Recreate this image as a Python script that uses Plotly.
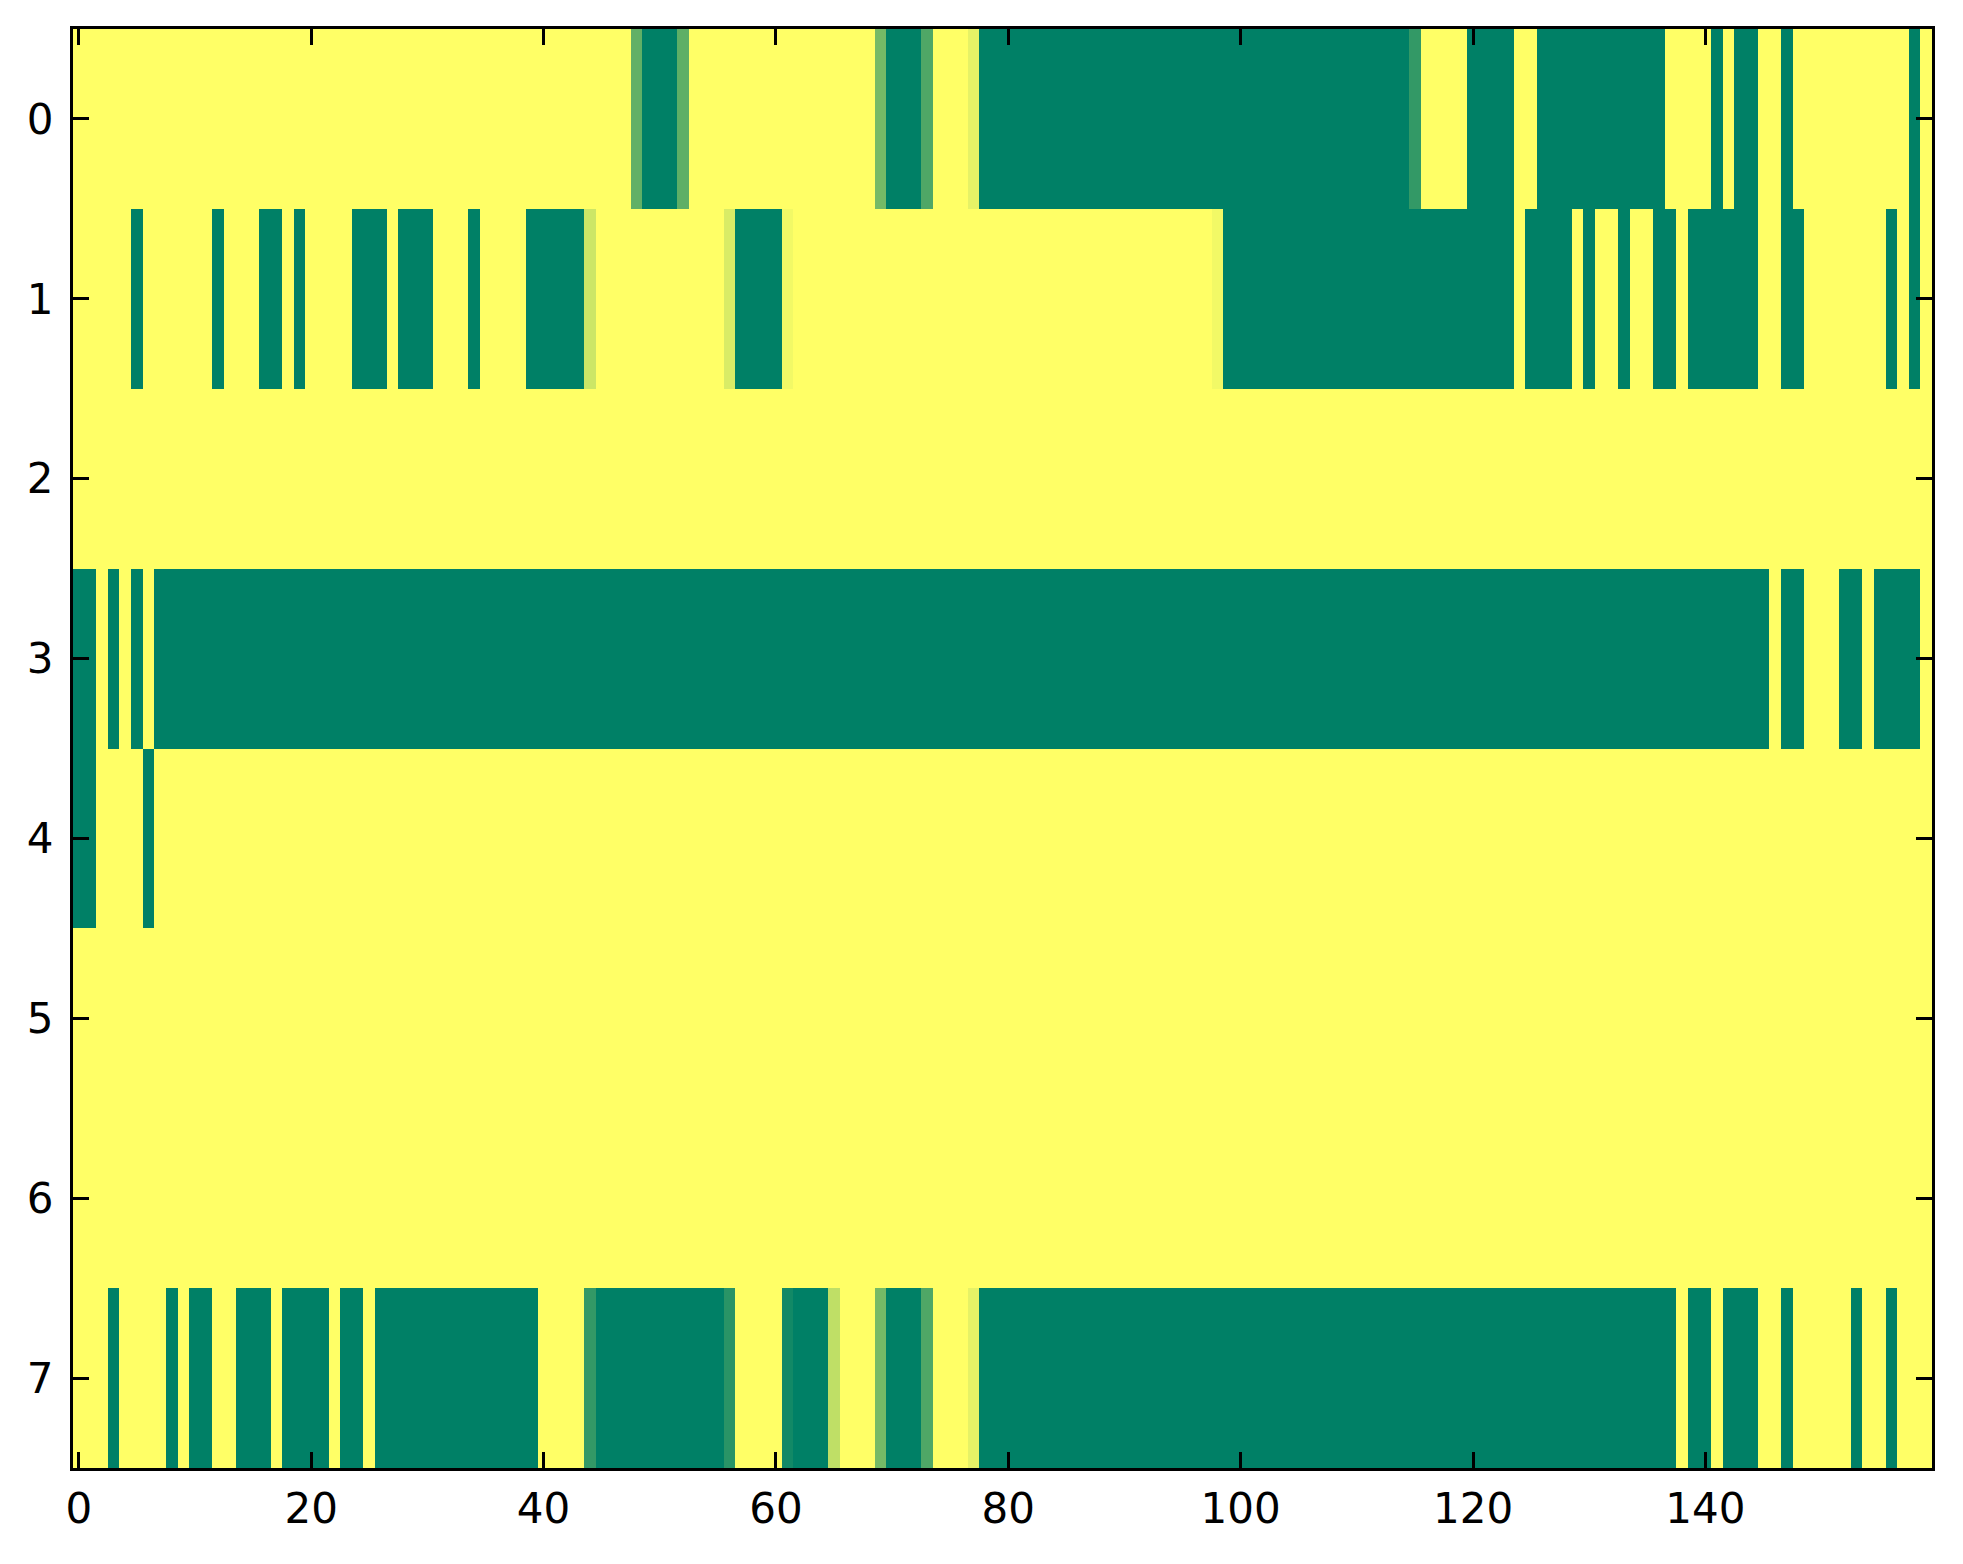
import plotly.graph_objects as go

# Heatmap values (8 rows x 160 columns), 0 = green, 1 = yellow
row0 = [
    1, 1, 1, 1, 1, 1, 1, 1, 1, 1, 1, 1, 1, 1, 1, 1, 1, 1, 1, 1,
    1, 1, 1, 1, 1, 1, 1, 1, 1, 1, 1, 1, 1, 1, 1, 1, 1, 1, 1, 1,
    1, 1, 1, 1, 1, 1, 1, 1, 0.38, 0, 0, 0, 0.37, 1, 1, 1, 1, 1, 1, 1,
    1, 1, 1, 1, 1, 1, 1, 1, 1, 0.46, 0, 0, 0, 0.31, 1, 1, 1, 0.9, 0, 0,
    0, 0, 0, 0, 0, 0, 0, 0, 0, 0, 0, 0, 0, 0, 0, 0, 0, 0, 0, 0,
    0, 0, 0, 0, 0, 0, 0, 0, 0, 0, 0, 0, 0, 0, 0, 0.2, 1, 1, 1, 1,
    0, 0, 0, 0, 1, 1, 0, 0, 0, 0, 0, 0, 0, 0, 0, 0, 0, 1, 1, 1,
    1, 0, 1, 0, 0, 1, 1, 0, 1, 1, 1, 1, 1, 1, 1, 1, 1, 1, 0, 1,
]
row1 = [
    1, 1, 1, 1, 1, 0, 1, 1, 1, 1, 1, 1, 0, 1, 1, 1, 0, 0, 1, 0,
    1, 1, 1, 1, 0, 0, 0, 1, 0, 0, 0, 1, 1, 1, 0, 1, 1, 1, 1, 0,
    0, 0, 0, 0, 0.8, 1, 1, 1, 1, 1, 1, 1, 1, 1, 1, 1, 0.85, 0, 0, 0,
    0, 0.95, 1, 1, 1, 1, 1, 1, 1, 1, 1, 1, 1, 1, 1, 1, 1, 1, 1, 1,
    1, 1, 1, 1, 1, 1, 1, 1, 1, 1, 1, 1, 1, 1, 1, 1, 1, 1, 0.95, 0,
    0, 0, 0, 0, 0, 0, 0, 0, 0, 0, 0, 0, 0, 0, 0, 0, 0, 0, 0, 0,
    0, 0, 0, 0, 1, 0, 0, 0, 0, 1, 0, 1, 1, 0, 1, 1, 0, 0, 1, 0,
    0, 0, 0, 0, 0, 1, 1, 0, 0, 1, 1, 1, 1, 1, 1, 1, 0, 1, 0, 1,
]
row2 = [
    1, 1, 1, 1, 1, 1, 1, 1, 1, 1, 1, 1, 1, 1, 1, 1, 1, 1, 1, 1,
    1, 1, 1, 1, 1, 1, 1, 1, 1, 1, 1, 1, 1, 1, 1, 1, 1, 1, 1, 1,
    1, 1, 1, 1, 1, 1, 1, 1, 1, 1, 1, 1, 1, 1, 1, 1, 1, 1, 1, 1,
    1, 1, 1, 1, 1, 1, 1, 1, 1, 1, 1, 1, 1, 1, 1, 1, 1, 1, 1, 1,
    1, 1, 1, 1, 1, 1, 1, 1, 1, 1, 1, 1, 1, 1, 1, 1, 1, 1, 1, 1,
    1, 1, 1, 1, 1, 1, 1, 1, 1, 1, 1, 1, 1, 1, 1, 1, 1, 1, 1, 1,
    1, 1, 1, 1, 1, 1, 1, 1, 1, 1, 1, 1, 1, 1, 1, 1, 1, 1, 1, 1,
    1, 1, 1, 1, 1, 1, 1, 1, 1, 1, 1, 1, 1, 1, 1, 1, 1, 1, 1, 1,
]
row3 = [
    0, 0, 1, 0, 1, 0, 1, 0, 0, 0, 0, 0, 0, 0, 0, 0, 0, 0, 0, 0,
    0, 0, 0, 0, 0, 0, 0, 0, 0, 0, 0, 0, 0, 0, 0, 0, 0, 0, 0, 0,
    0, 0, 0, 0, 0, 0, 0, 0, 0, 0, 0, 0, 0, 0, 0, 0, 0, 0, 0, 0,
    0, 0, 0, 0, 0, 0, 0, 0, 0, 0, 0, 0, 0, 0, 0, 0, 0, 0, 0, 0,
    0, 0, 0, 0, 0, 0, 0, 0, 0, 0, 0, 0, 0, 0, 0, 0, 0, 0, 0, 0,
    0, 0, 0, 0, 0, 0, 0, 0, 0, 0, 0, 0, 0, 0, 0, 0, 0, 0, 0, 0,
    0, 0, 0, 0, 0, 0, 0, 0, 0, 0, 0, 0, 0, 0, 0, 0, 0, 0, 0, 0,
    0, 0, 0, 0, 0, 0, 1, 0, 0, 1, 1, 1, 0, 0, 1, 0, 0, 0, 0, 1,
]
row4 = [
    0, 0, 1, 1, 1, 1, 0, 1, 1, 1, 1, 1, 1, 1, 1, 1, 1, 1, 1, 1,
    1, 1, 1, 1, 1, 1, 1, 1, 1, 1, 1, 1, 1, 1, 1, 1, 1, 1, 1, 1,
    1, 1, 1, 1, 1, 1, 1, 1, 1, 1, 1, 1, 1, 1, 1, 1, 1, 1, 1, 1,
    1, 1, 1, 1, 1, 1, 1, 1, 1, 1, 1, 1, 1, 1, 1, 1, 1, 1, 1, 1,
    1, 1, 1, 1, 1, 1, 1, 1, 1, 1, 1, 1, 1, 1, 1, 1, 1, 1, 1, 1,
    1, 1, 1, 1, 1, 1, 1, 1, 1, 1, 1, 1, 1, 1, 1, 1, 1, 1, 1, 1,
    1, 1, 1, 1, 1, 1, 1, 1, 1, 1, 1, 1, 1, 1, 1, 1, 1, 1, 1, 1,
    1, 1, 1, 1, 1, 1, 1, 1, 1, 1, 1, 1, 1, 1, 1, 1, 1, 1, 1, 1,
]
row5 = [
    1, 1, 1, 1, 1, 1, 1, 1, 1, 1, 1, 1, 1, 1, 1, 1, 1, 1, 1, 1,
    1, 1, 1, 1, 1, 1, 1, 1, 1, 1, 1, 1, 1, 1, 1, 1, 1, 1, 1, 1,
    1, 1, 1, 1, 1, 1, 1, 1, 1, 1, 1, 1, 1, 1, 1, 1, 1, 1, 1, 1,
    1, 1, 1, 1, 1, 1, 1, 1, 1, 1, 1, 1, 1, 1, 1, 1, 1, 1, 1, 1,
    1, 1, 1, 1, 1, 1, 1, 1, 1, 1, 1, 1, 1, 1, 1, 1, 1, 1, 1, 1,
    1, 1, 1, 1, 1, 1, 1, 1, 1, 1, 1, 1, 1, 1, 1, 1, 1, 1, 1, 1,
    1, 1, 1, 1, 1, 1, 1, 1, 1, 1, 1, 1, 1, 1, 1, 1, 1, 1, 1, 1,
    1, 1, 1, 1, 1, 1, 1, 1, 1, 1, 1, 1, 1, 1, 1, 1, 1, 1, 1, 1,
]
row6 = [
    1, 1, 1, 1, 1, 1, 1, 1, 1, 1, 1, 1, 1, 1, 1, 1, 1, 1, 1, 1,
    1, 1, 1, 1, 1, 1, 1, 1, 1, 1, 1, 1, 1, 1, 1, 1, 1, 1, 1, 1,
    1, 1, 1, 1, 1, 1, 1, 1, 1, 1, 1, 1, 1, 1, 1, 1, 1, 1, 1, 1,
    1, 1, 1, 1, 1, 1, 1, 1, 1, 1, 1, 1, 1, 1, 1, 1, 1, 1, 1, 1,
    1, 1, 1, 1, 1, 1, 1, 1, 1, 1, 1, 1, 1, 1, 1, 1, 1, 1, 1, 1,
    1, 1, 1, 1, 1, 1, 1, 1, 1, 1, 1, 1, 1, 1, 1, 1, 1, 1, 1, 1,
    1, 1, 1, 1, 1, 1, 1, 1, 1, 1, 1, 1, 1, 1, 1, 1, 1, 1, 1, 1,
    1, 1, 1, 1, 1, 1, 1, 1, 1, 1, 1, 1, 1, 1, 1, 1, 1, 1, 1, 1,
]
row7 = [
    1, 1, 1, 0, 1, 1, 1, 1, 0, 1, 0, 0, 1, 1, 0, 0, 0, 1, 0, 0,
    0, 0, 1, 0, 0, 1, 0, 0, 0, 0, 0, 0, 0, 0, 0, 0, 0, 0, 0, 0,
    1, 1, 1, 1, 0.2, 0, 0, 0, 0, 0, 0, 0, 0, 0, 0, 0, 0.16, 1, 1, 1,
    1, 0.07, 0, 0, 0, 0.75, 1, 1, 1, 0.46, 0, 0, 0, 0.31, 1, 1, 1, 0.9, 0, 0,
    0, 0, 0, 0, 0, 0, 0, 0, 0, 0, 0, 0, 0, 0, 0, 0, 0, 0, 0, 0,
    0, 0, 0, 0, 0, 0, 0, 0, 0, 0, 0, 0, 0, 0, 0, 0, 0, 0, 0, 0,
    0, 0, 0, 0, 0, 0, 0, 0, 0, 0, 0, 0, 0, 0, 0, 0, 0, 0, 1, 0,
    0, 1, 0, 0, 0, 1, 1, 0, 1, 1, 1, 1, 1, 0, 1, 1, 0, 1, 1, 1,
]

z = [row0, row1, row2, row3, row4, row5, row6, row7]
columns = list(range(len(row0)))
rows = list(range(len(z)))

x_ticks = [0, 20, 40, 60, 80, 100, 120, 140]
y_ticks = [0, 1, 2, 3, 4, 5, 6, 7]

# matplotlib "summer" colormap
summer = [[0.0, "rgb(0,128,102)"], [1.0, "rgb(255,255,102)"]]

fig = go.Figure(
    go.Heatmap(
        z=z,
        x=columns,
        y=rows,
        colorscale=summer,
        zmin=0,
        zmax=1,
        showscale=False,
        hoverinfo="skip",
    )
)

axis_common = dict(
    showline=True,
    linecolor="black",
    linewidth=3,
    mirror="ticks",
    ticks="inside",
    ticklen=16,
    tickwidth=2.5,
    tickcolor="black",
    showgrid=False,
    zeroline=False,
    tickfont=dict(family="DejaVu Sans", size=42, color="black"),
)

fig.update_xaxes(range=[-0.5, len(row0) - 0.5], tickvals=x_ticks,
                 ticklabelstandoff=2, **axis_common)
fig.update_yaxes(range=[len(z) - 0.5, -0.5], tickvals=y_ticks,
                 ticklabelstandoff=8, **axis_common)

fig.update_layout(
    width=1955,
    height=1556,
    margin=dict(l=65, r=31, t=21, b=96),
    paper_bgcolor="white",
    plot_bgcolor="white",
    font=dict(family="DejaVu Sans", size=42, color="black"),
)

fig.write_html("out.html")
